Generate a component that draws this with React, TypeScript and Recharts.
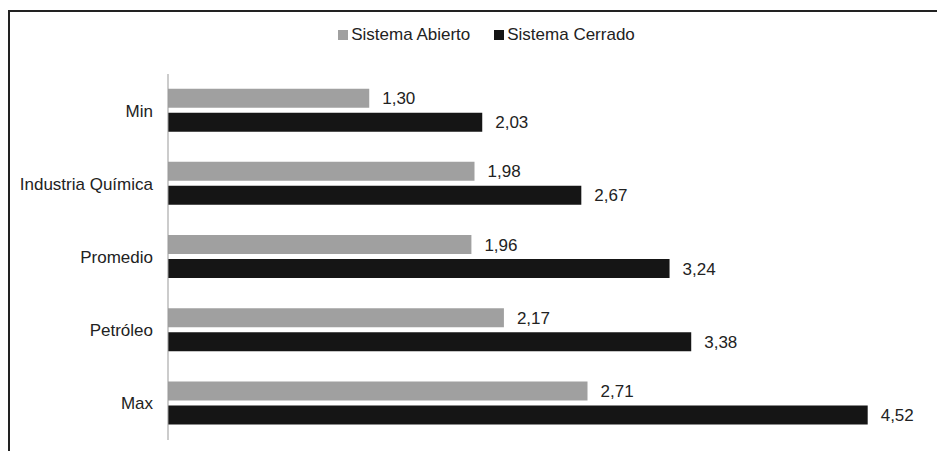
import { BarChart, Bar, XAxis, YAxis, LabelList, Legend } from "recharts";

const categories = ["Min", "Industria Química", "Promedio", "Petróleo", "Max"];
const abierto = [1.3, 1.98, 1.96, 2.17, 2.71];
const cerrado = [2.03, 2.67, 3.24, 3.38, 4.52];

const SERIES = [
  { key: "abierto", name: "Sistema Abierto", color: "#a0a0a0" },
  { key: "cerrado", name: "Sistema Cerrado", color: "#151515" },
];

const data = categories.map((name, i) => ({
  name,
  abierto: abierto[i],
  cerrado: cerrado[i],
}));

const FONT = "'Liberation Sans', Arial, sans-serif";
const fmt = (v: any) => Number(v).toFixed(2).replace(".", ",");

function TopLegend() {
  return (
    <div
      style={{
        height: 20,
        display: "flex",
        justifyContent: "center",
        alignItems: "center",
        gap: 24,
        fontFamily: FONT,
        fontSize: 17,
        color: "#222",
        paddingLeft: 18,
      }}
    >
      {SERIES.map((s) => (
        <span key={s.key} style={{ display: "flex", alignItems: "center" }}>
          <span
            style={{
              width: 10,
              height: 10,
              background: s.color,
              marginRight: 3,
              display: "inline-block",
            }}
          />
          {s.name}
        </span>
      ))}
    </div>
  );
}

export default function App() {
  return (
    <div style={{ paddingTop: 2 }}>
      <div
        style={{
          borderTop: "2px solid #222",
          borderLeft: "2px solid #222",
          width: 935,
          height: 439,
          background: "#fff",
        }}
      >
        <BarChart
          width={935}
          height={439}
          layout="vertical"
          data={data}
          margin={{ top: 42, right: 3, bottom: 11, left: 0 }}
          barCategoryGap="20%"
          barGap={5}
        >
          <Legend
            verticalAlign="top"
            content={() => <TopLegend />}
            wrapperStyle={{ top: 13, left: 0, width: 935 }}
          />
          <XAxis type="number" domain={[0, 5]} hide />
          <YAxis
            type="category"
            dataKey="name"
            width={158}
            tickLine={false}
            tickSize={0}
            tickMargin={15}
            axisLine={{ stroke: "#999" }}
            tick={{ fill: "#222", fontSize: 17, fontFamily: FONT }}
          />
          {SERIES.map((s) => (
            <Bar
              key={s.key}
              dataKey={s.key}
              name={s.name}
              fill={s.color}
              isAnimationActive={false}
            >
              <LabelList
                dataKey={s.key}
                position="right"
                offset={13}
                formatter={fmt}
                style={{ fill: "#222", fontSize: 17, fontFamily: FONT }}
              />
            </Bar>
          ))}
        </BarChart>
      </div>
    </div>
  );
}
